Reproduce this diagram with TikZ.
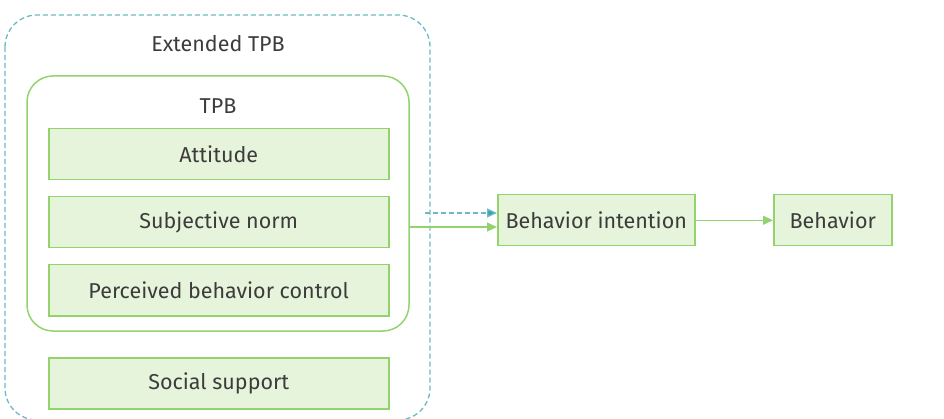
\documentclass[tikz,border=0pt]{standalone}
\usepackage{fontspec}
\setmainfont{Fira Sans}
\usetikzlibrary{arrows.meta}
\definecolor{gline}{HTML}{92D36E}
\definecolor{gfill}{HTML}{E6F4DC}
\definecolor{teal}{HTML}{6BBAC4}
\definecolor{tealhead}{HTML}{3A9EB5}
\definecolor{txt}{HTML}{3C3C3C}
\tikzset{
  box/.style={draw=gline, fill=gfill, line width=1.5pt, text=txt, font=\fontsize{21.5}{24}\selectfont, inner sep=0pt, anchor=north west},
  lbl/.style={text=txt, font=\fontsize{21.5}{24}\selectfont},
  garrow/.style={draw=gline, line width=1.3pt, -{Triangle[length=10pt,width=9pt,fill=gline]}},
  tarrow/.style={draw=teal, line width=1.3pt, dash pattern=on 5pt off 3pt, -{Triangle[length=10pt,width=9pt,fill=tealhead]}}
}
\begin{document}
\begin{tikzpicture}[x=1pt,y=-1pt]
\useasboundingbox (0,0) rectangle (944,419);
% outer dashed
\draw[teal, line width=1.3pt, dash pattern=on 5pt off 3pt, rounded corners=32pt] (5,15) rectangle (430,420);
\node[lbl] (ext) at (218,44) {Extended TPB};
% TPB box
\draw[gline, line width=1.5pt, rounded corners=26pt] (27,76) rectangle (409,331);
\coordinate (tpbR) at (409,227);
\coordinate (extR) at (425,213);
\node[lbl] (tpb) at (218,106) {TPB};
\node[box, minimum width=340pt, minimum height=51pt] (att) at (48,128) {Attitude};
\node[box, minimum width=340pt, minimum height=51pt] (sub) at (48,196) {Subjective norm};
\node[box, minimum width=340pt, minimum height=51pt] (pbc) at (48,264) {Perceived behavior control};
\node[box, minimum width=340pt, minimum height=51pt] (soc) at (48,357) {Social support};
\node[box, minimum width=197pt, minimum height=51pt] (bi) at (497,194) {Behavior intention};
\node[box, minimum width=118pt, minimum height=51pt] (beh) at (773,194) {Behavior};
\draw[tarrow] (extR) -- (bi.west |- extR);
\draw[garrow] (tpbR) -- (bi.west |- tpbR);
\draw[garrow] (bi) -- (beh);
\end{tikzpicture}
\end{document}
